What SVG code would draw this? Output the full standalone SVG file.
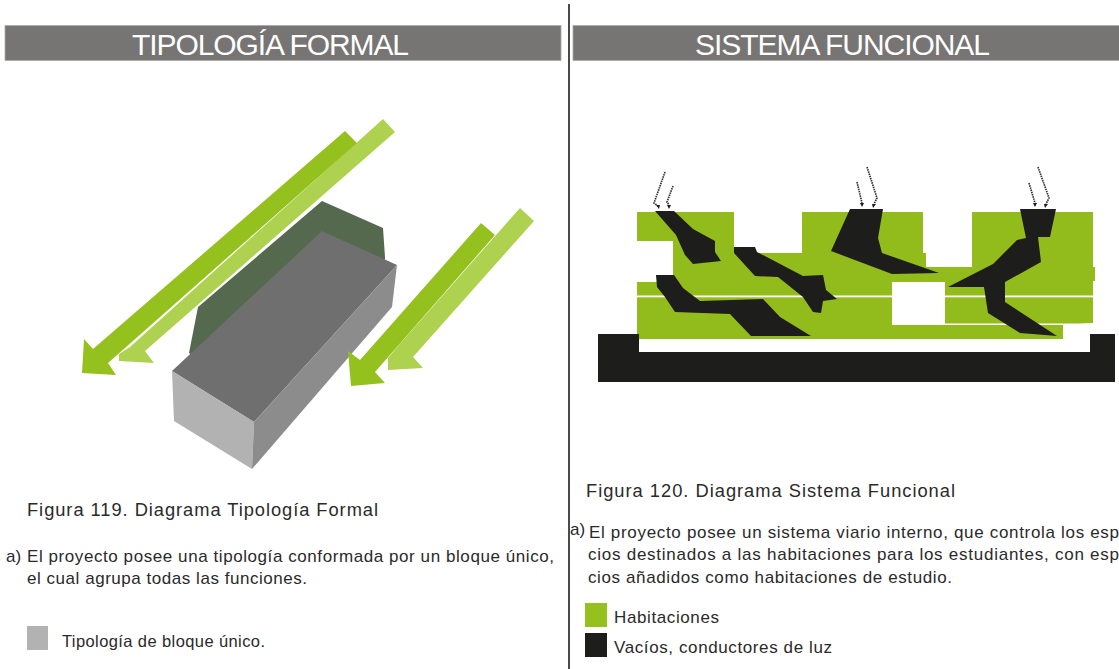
<svg xmlns="http://www.w3.org/2000/svg" width="1119" height="669" viewBox="0 0 1119 669">
<style>
text{font-family:"Liberation Sans",Arial,sans-serif;fill:#2a2a2a}
.h{font-size:30px;fill:#fff}
.f{font-size:18.300px}
.b{font-size:17px}
.c{font-size:16.500px}
.hd{fill:#767573;stroke:#aaa;stroke-width:.8}
.dg{fill:#95c11f}
.lg{fill:#aed14f}
.g{fill:#92bc1c}
.k{fill:#1d1d1b}
.w{fill:#fff}
.ray{fill:none;stroke:#333;stroke-width:1.7;stroke-dasharray:1.500 .8}
.tip{fill:#1d1d1b}
</style>
<rect width="1119" height="669" fill="#fff"/>
<rect x="568" y="4" width="2" height="665" fill="#4a4a4a"/>
<g id="header-left"><rect class="hd" x="5" y="25.500" width="556" height="35"/><text class="h" x="132" y="55" textLength="277" lengthAdjust="spacing">TIPOLOGÍA FORMAL</text></g>
<g id="header-right"><rect class="hd" x="573" y="25.500" width="547" height="35"/><text class="h" x="695" y="55" textLength="295" lengthAdjust="spacing">SISTEMA FUNCIONAL</text></g>
<g id="tipologia">
<polygon class="lg" points="383,119 395,132 145,351 154,363 119,361 119,354 130,347"/>
<polygon class="dg" points="345,131 357,143 108,363 116,375 82,373 84,339 93,349"/>
<polygon points="189,353 198,307 322,201 383,228 385,257 385,270 322,245 200,360" fill="#55694f"/>
<polygon points="172,371 322,231 397,265 254,422" fill="#6f6f6f"/>
<polygon points="172,371 254,422 252,469 174,421" fill="#b2b2b2"/>
<polygon points="254,422 397,265 392,307 252,469" fill="#8c8c8c"/>
<polygon class="lg" points="520,208 534,221 413,357 423,368 388,370 388,358 398,346"/>
<polygon class="dg" points="481,223 495,235 375,372 385,383 351,386 348,351 360,360"/>
</g>
<g id="planta">
<polygon class="g" points="637,212 734,212 734,253 802,253 802,212 923,212 923,253 926,253 926,267 972,267 972,212 1093,212 1093,267 1095,267 1095,281 1093,281 1093,323 1063,325 1063,339 637,339 637,282 673,282 673,241 637,241"/>
<rect class="w" x="892" y="282" width="53" height="43"/>
<rect class="w" x="637" y="295.500" width="456" height="1.800"/>
<rect class="w" x="945" y="323.500" width="148" height="1.500"/>
<polygon class="k" points="655,211 674,211 693,229 715,241 715,252 721,261 693,264 685,255 676,235"/>
<polygon class="k" points="734,247 755,247 757,252 803,276 823,275 826,290 837,299 823,301 821,313 813,312 803,297 778,277 755,276 734,253"/>
<polygon class="k" points="656,275 674,275 683,288 700,301 763,299 780,317 811,336 751,336 730,314 675,312 665,297 657,287"/>
<polygon class="k" points="850,209 883,209 878,238 882,253 939,273 892,274 831,251"/>
<polygon class="k" points="1020,209 1056,209 1050,237 1038,237 1041,262 1005,282 1005,302 1057,336 1020,333 988,313 984,287 948,287 993,264 1017,240 1026,238"/>
<polygon class="k" points="598,334 639,334 639,352 1090,352 1090,334 1115,334 1115,382 598,382"/>
</g>
<g id="rayos">
<polyline class="ray" points="665,172 654,203 658,206"/>
<polyline class="ray" points="673,186 667,202 669,205"/>
<polyline class="ray" points="857,182 862,203"/>
<polyline class="ray" points="867,167 877,198 874,204"/>
<polyline class="ray" points="1029,183 1035,203"/>
<polyline class="ray" points="1038,167 1049,198 1046,204"/>
<polygon class="tip" points="656,205 660,205 659,209"/>
<polygon class="tip" points="667,205 671,205 669,209"/>
<polygon class="tip" points="860,203 864,203 862,207"/>
<polygon class="tip" points="872,204 876,204 873,208"/>
<polygon class="tip" points="1033,203 1037,203 1035,207"/>
<polygon class="tip" points="1044,204 1048,204 1045,208"/>
</g>
<g id="texto-izquierda">
<text class="f" x="27" y="516" textLength="351" lengthAdjust="spacing">Figura 119. Diagrama Tipología Formal</text>
<text class="b" x="6" y="562">a)</text>
<text class="b" x="27" y="562" textLength="527" lengthAdjust="spacing">El proyecto posee una tipología conformada por un bloque único,</text>
<text class="b" x="27" y="584" textLength="280" lengthAdjust="spacing">el cual agrupa todas las funciones.</text>
<rect x="27" y="626" width="21" height="24" fill="#b2b2b2"/>
<text class="c" x="62" y="647" textLength="203" lengthAdjust="spacing">Tipología de bloque único.</text>
</g>
<g id="texto-derecha">
<text class="f" x="586" y="497" textLength="369" lengthAdjust="spacing">Figura 120. Diagrama Sistema Funcional</text>
<text class="b" x="570" y="535">a)</text>
<text class="b" x="589" y="538" textLength="530" lengthAdjust="spacing">El proyecto posee un sistema viario interno, que controla los esp</text>
<text class="b" x="588" y="560" textLength="531" lengthAdjust="spacing">cios destinados a las habitaciones para los estudiantes, con esp</text>
<text class="b" x="588" y="583" textLength="364" lengthAdjust="spacing">cios añadidos como habitaciones de estudio.</text>
<rect x="585" y="603" width="22" height="24" fill="#95c11f"/>
<text class="b" x="614" y="623" textLength="105" lengthAdjust="spacing">Habitaciones</text>
<rect x="585" y="633" width="22" height="24" fill="#1d1d1b"/>
<text class="b" x="614" y="653" textLength="218" lengthAdjust="spacing">Vacíos, conductores de luz</text>
</g>
</svg>
